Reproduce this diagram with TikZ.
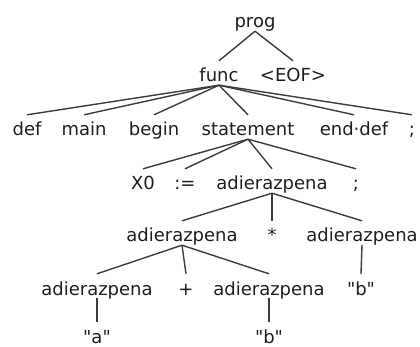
\documentclass[tikz,border=0pt]{standalone}
\usepackage{fontspec}
\newfontfamily\treefont{DejaVu Sans}
\definecolor{treeline}{RGB}{60,60,60}
\definecolor{treetext}{RGB}{30,30,30}
\tikzset{
  tok/.style={anchor=base,inner sep=0pt,text height=21pt,text depth=3pt,
              font=\treefont\fontsize{18}{20}\selectfont,text=treetext},
  lnk/.style={draw=treeline,line width=1.4pt},
}
\begin{document}
\begin{tikzpicture}[x=1pt,y=-1pt]
  \useasboundingbox (0,0) rectangle (420,347);

  % --- root ---
  \node[tok] (prog) at (255,28) {prog};
  \node[tok] (func) at (219,82) {func};
  \node[tok] (eof)  at (293,82) {<EOF>};
  \draw[lnk] (prog.south) -- (func.north);
  \draw[lnk] (prog.south) -- (eof.north);

  % --- func ---
  \node[tok] (def)   at (27,136)  {def};
  \node[tok] (main)  at (84,136)  {main};
  \node[tok] (begin) at (154,136) {begin};
  \node[tok] (stmt)  at (248,136) {statement};
  \node[tok] (edef)  at (354,136) {end·def};
  \node[tok] (semi)  at (412,136) {;};
  \foreach \c in {def,main,begin,stmt,edef,semi}
    \draw[lnk] (func.south) -- (\c.north);

  % --- statement ---
  \node[tok] (xo)   at (143,190) {X0};
  \node[tok] (asg)  at (185,190) {:=};
  \node[tok] (adA)  at (272,190) {adierazpena};
  \node[tok] (semiB) at (356,190) {;};
  \foreach \c in {xo,asg,adA,semiB}
    \draw[lnk] (stmt.south) -- (\c.north);

  % --- product ---
  \node[tok] (adB)  at (182,242) {adierazpena};
  \node[tok] (mul)  at (272,242) {*};
  \node[tok] (adC)  at (362,242) {adierazpena};
  \foreach \c in {adB,mul,adC}
    \draw[lnk] (adA.south) -- (\c.north);

  % --- sum ---
  \node[tok] (adD)  at (97,295)  {adierazpena};
  \node[tok] (plus) at (186,295) {+};
  \node[tok] (adE)  at (269,295) {adierazpena};
  \node[tok] (strB) at (361,295) {"b"};
  \foreach \c in {adD,plus,adE}
    \draw[lnk] (adB.south) -- (\c.north);
  \draw[lnk] (adC.south) -- (strB.north);

  % --- leaves ---
  \node[tok] (strA) at (97,343)  {"a"};
  \node[tok] (strC) at (269,343) {"b"};
  \draw[lnk] (adD.south) -- (strA.north);
  \draw[lnk] (adE.south) -- (strC.north);
\end{tikzpicture}
\end{document}
